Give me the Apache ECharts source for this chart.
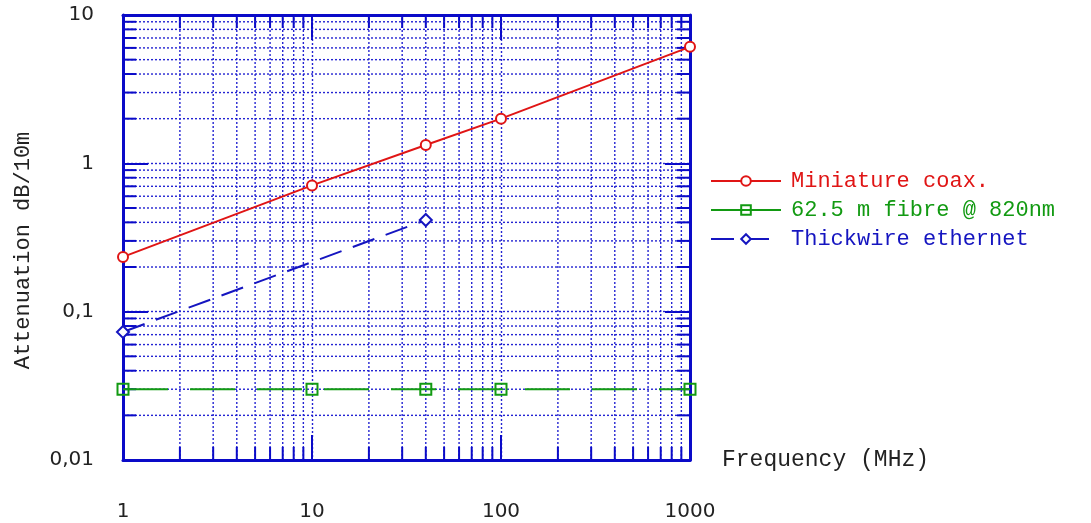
<!DOCTYPE html>
<html><head><meta charset="utf-8">
<script src="https://cdn.jsdelivr.net/npm/echarts@6/dist/echarts.min.js"></script>
<style>html,body{margin:0;padding:0;background:#fff}#c{width:1091px;height:523px}</style>
</head><body><div id="c"></div>
<script>
// ---- data ----
const seriesNames = ['Miniature coax.', '62.5 m fibre @ 820nm', 'Thickwire ethernet'];
const coaxFreq = [1, 10, 40, 100, 1000];
const coaxValues = [0.234, 0.71, 1.33, 2.0, 6.1];
const fibreFreq = [1, 10, 40, 100, 1000];
const fibreValues = [0.03, 0.03, 0.03, 0.03, 0.03];
const thickFreq = [1, 40];
const thickValues = [0.073, 0.415];
const xMin = 1, xMax = 1000, yMin = 0.01, yMax = 10;
const xMinorTicks = [2,3,4,5,6,7,8,9,20,30,40,50,60,70,80,90,200,300,400,500,600,700,800,900];
const yMinorTicks = [0.02,0.03,0.04,0.05,0.06,0.07,0.08,0.09,0.2,0.3,0.4,0.5,0.6,0.7,0.8,0.9,2,3,4,5,6,7,8,9];

// ---- style ----
const axisBlue = '#0a0ac8';
const gridBlue = '#2424d2';
const red = '#e01515';
const green = '#129a12';
const blue = '#1515c0';
const labelFont = 'DejaVu Sans';
const nameFont = 'Liberation Mono';
const textColor = '#222';

const pair = (xs, ys) => xs.map((x, i) => [x, ys[i]]);

const gridData = xMinorTicks.map(v => [v, yMin, 0]).concat(yMinorTicks.map(v => [xMin, v, 1]));

function renderMinor(params, api) {
  const kind = api.value(2);
  const dash = {stroke: gridBlue, lineWidth: 1.4, lineDash: [2, 2]};
  const tick = {stroke: axisBlue, lineWidth: 2};
  const L = 13;
  let p0, p1, children;
  if (kind === 0) {
    p0 = api.coord([api.value(0), yMin]);
    p1 = api.coord([api.value(0), yMax]);
    children = [
      {type: 'line', shape: {x1: p0[0], y1: p0[1], x2: p1[0], y2: p1[1]}, style: dash},
      {type: 'line', shape: {x1: p0[0], y1: p0[1], x2: p0[0], y2: p0[1] - L}, style: tick},
      {type: 'line', shape: {x1: p1[0], y1: p1[1], x2: p1[0], y2: p1[1] + L}, style: tick}
    ];
  } else {
    p0 = api.coord([xMin, api.value(1)]);
    p1 = api.coord([xMax, api.value(1)]);
    children = [
      {type: 'line', shape: {x1: p0[0], y1: p0[1], x2: p1[0], y2: p1[1]}, style: dash},
      {type: 'line', shape: {x1: p0[0], y1: p0[1], x2: p0[0] + L, y2: p0[1]}, style: tick},
      {type: 'line', shape: {x1: p1[0], y1: p1[1], x2: p1[0] - L, y2: p1[1]}, style: tick}
    ];
  }
  return {type: 'group', children};
}

const splitLine = {show: true, lineStyle: {color: gridBlue, width: 1.4, type: [2, 2]}};
const axisLine = {show: true, onZero: false, lineStyle: {color: axisBlue, width: 3}};
const axisTick = {show: true, inside: true, length: 25, lineStyle: {color: axisBlue, width: 2}};

const chart = echarts.init(document.getElementById('c'), null, {renderer: 'canvas'});
chart.setOption({
  animation: false,
  backgroundColor: '#fff',
  grid: {left: 123, right: 401, top: 15, bottom: 63, containLabel: false, outerBoundsMode: 'none'},
  legend: {
    orient: 'vertical', left: 705, top: 165, itemWidth: 70, itemHeight: 12, itemGap: 7,
    data: [
      {name: seriesNames[0], textStyle: {color: red}},
      {name: seriesNames[1], textStyle: {color: green}, lineStyle: {type: 'solid'}},
      {name: seriesNames[2], textStyle: {color: blue}}
    ],
    textStyle: {fontFamily: nameFont, fontSize: 22, padding: [0, 0, 0, 5]}
  },
  xAxis: [
    {
      type: 'log', logBase: 10, min: xMin, max: xMax, splitNumber: 3,
      name: 'Frequency (MHz)', nameLocation: 'end', nameGap: 32,
      nameTextStyle: {fontFamily: nameFont, fontSize: 23, color: textColor, align: 'left', verticalAlign: 'middle', padding: [6, 0, 0, 0]},
      axisLine, axisTick, splitLine,
      axisLabel: {margin: 42, fontFamily: labelFont, fontSize: 20, color: textColor, formatter: v => String(v)},
      minorTick: {show: false}, minorSplitLine: {show: false}
    },
    {
      type: 'log', logBase: 10, min: xMin, max: xMax, splitNumber: 3, position: 'top',
      axisLine, axisTick, splitLine: {show: false}, axisLabel: {show: false}
    }
  ],
  yAxis: [
    {
      type: 'log', logBase: 10, min: yMin, max: yMax, splitNumber: 3,
      name: 'Attenuation dB/10m', nameLocation: 'middle', nameGap: 89, nameRotate: 90,
      nameTextStyle: {fontFamily: nameFont, fontSize: 22, color: textColor, padding: [0, 26, 0, 0]},
      axisLine, axisTick, splitLine,
      axisLabel: {margin: 29, fontFamily: labelFont, fontSize: 20, color: textColor,
        formatter: v => String(v).replace('.', ',')}
    },
    {
      type: 'log', logBase: 10, min: yMin, max: yMax, splitNumber: 3, position: 'right',
      axisLine, axisTick, splitLine: {show: false}, axisLabel: {show: false}
    }
  ],
  series: [
    {
      type: 'custom', name: 'minor', silent: true, z: 1, xAxisIndex: 0, yAxisIndex: 0,
      encode: {x: 0, y: 1}, renderItem: renderMinor, data: gridData, clip: false
    },
    {
      type: 'line', name: seriesNames[0], data: pair(coaxFreq, coaxValues), z: 5,
      symbol: 'circle', symbolSize: 10, showAllSymbol: true,
      lineStyle: {color: red, width: 2},
      itemStyle: {color: '#fff', borderColor: red, borderWidth: 2}
    },
    {
      type: 'line', name: seriesNames[1], data: pair(fibreFreq, fibreValues), z: 5,
      symbol: 'rect', symbolSize: 11, showAllSymbol: true,
      lineStyle: {color: green, width: 2, type: [45, 22]},
      itemStyle: {color: 'rgba(255,255,255,0)', borderColor: green, borderWidth: 2}
    },
    {
      type: 'line', name: seriesNames[2], data: pair(thickFreq, thickValues), z: 5,
      symbol: 'diamond', symbolSize: 12, showAllSymbol: true,
      lineStyle: {color: blue, width: 2, type: [23, 12]},
      itemStyle: {color: '#fff', borderColor: blue, borderWidth: 2}
    }
  ]
});
</script></body></html>
